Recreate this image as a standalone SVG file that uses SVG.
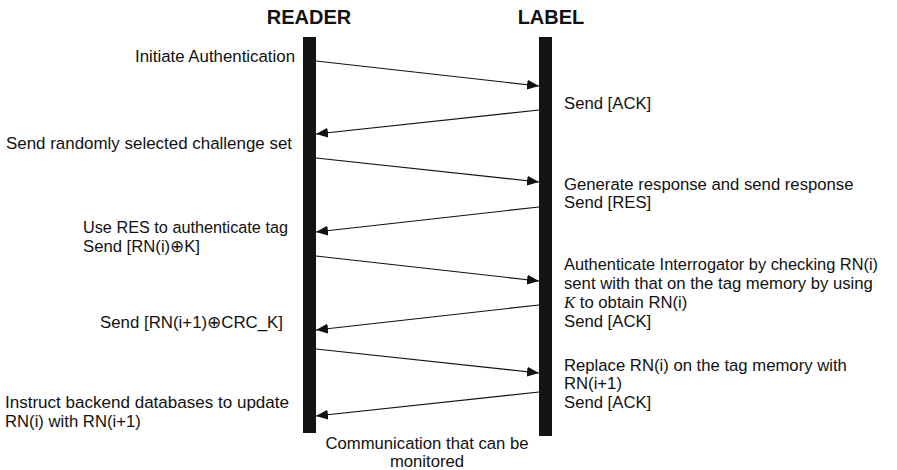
<svg xmlns="http://www.w3.org/2000/svg" width="897" height="470" viewBox="0 0 897 470">
<style>
text{font-family:"Liberation Sans",Arial,sans-serif;font-size:16.7px;fill:#111}
.h{font-weight:bold;font-size:20px;text-anchor:middle}
.bar{fill:#141414}
.c line{stroke:#111;stroke-width:1.2}
.k{font-family:"Liberation Serif","Times New Roman",serif;font-style:italic}
</style>
<defs>
<marker id="ah" viewBox="0 0 12 10" refX="12" refY="5" markerWidth="12" markerHeight="10" markerUnits="userSpaceOnUse" orient="auto">
<path d="M0,0 L12,5 L0,10 Z" fill="#111"/>
</marker>
</defs>
<rect width="897" height="470" fill="#fff"/>
<g id="reader">
<text class="h" x="309" y="24">READER</text>
<rect class="bar" x="303" y="37" width="13" height="396"/>
</g>
<g id="label">
<text class="h" x="551" y="24">LABEL</text>
<rect class="bar" x="539" y="37" width="13" height="399"/>
</g>
<g class="c" id="connectors">
<line x1="316" y1="61" x2="539" y2="86" marker-end="url(#ah)"/>
<line x1="539" y1="110" x2="316" y2="134" marker-end="url(#ah)"/>
<line x1="316" y1="158" x2="539" y2="182" marker-end="url(#ah)"/>
<line x1="539" y1="207" x2="316" y2="232" marker-end="url(#ah)"/>
<line x1="316" y1="256" x2="539" y2="281" marker-end="url(#ah)"/>
<line x1="539" y1="305" x2="316" y2="330" marker-end="url(#ah)"/>
<line x1="316" y1="349" x2="539" y2="373" marker-end="url(#ah)"/>
<line x1="539" y1="392" x2="316" y2="416" marker-end="url(#ah)"/>
</g>
<g id="reader-notes">
<text x="135" y="62" textLength="160" lengthAdjust="spacingAndGlyphs">Initiate Authentication</text>
<text x="6" y="149" textLength="286" lengthAdjust="spacingAndGlyphs">Send randomly selected challenge set</text>
<text x="83" y="233" textLength="205" lengthAdjust="spacingAndGlyphs">Use RES to authenticate tag</text>
<text x="83" y="252">Send [RN(i)⊕K]</text>
<text x="100" y="328" textLength="183" lengthAdjust="spacingAndGlyphs">Send [RN(i+1)⊕CRC_K]</text>
<text x="5" y="408" textLength="284" lengthAdjust="spacingAndGlyphs">Instruct backend databases to update</text>
<text x="5" y="427">RN(i) with RN(i+1)</text>
</g>
<g id="label-notes">
<text x="564" y="109">Send [ACK]</text>
<text x="564" y="190">Generate response and send response</text>
<text x="564" y="208">Send [RES]</text>
<text x="564" y="270" textLength="314" lengthAdjust="spacingAndGlyphs">Authenticate Interrogator by checking RN(i)</text>
<text x="564" y="289">sent with that on the tag memory by using</text>
<text x="564" y="308"><tspan class="k">K</tspan> to obtain RN(i)</text>
<text x="564" y="327">Send [ACK]</text>
<text x="564" y="371">Replace RN(i) on the tag memory with</text>
<text x="564" y="389">RN(i+1)</text>
<text x="564" y="408">Send [ACK]</text>
</g>
<g id="caption">
<text x="427" y="449" text-anchor="middle">Communication that can be</text>
<text x="427" y="467" text-anchor="middle">monitored</text>
</g>
</svg>
